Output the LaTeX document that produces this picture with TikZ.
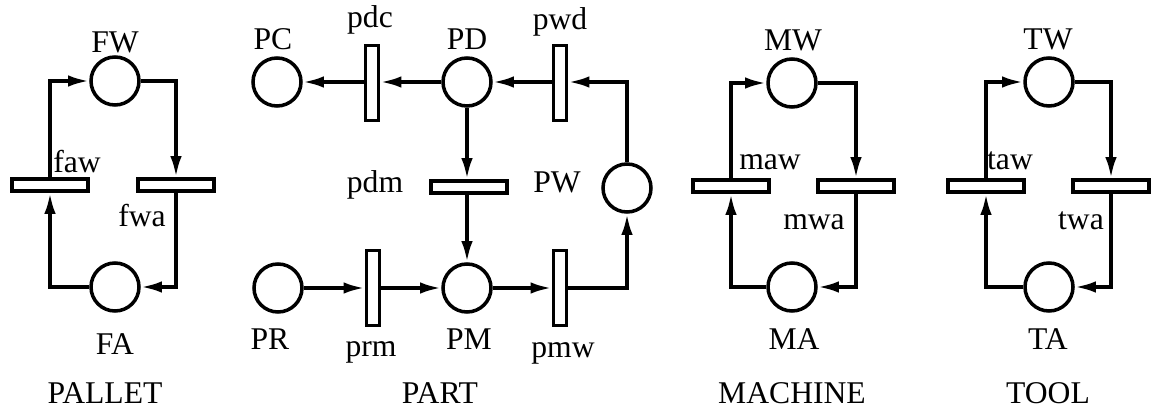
\documentclass[tikz,border=0pt]{standalone}
\usepackage{fontspec}
\setmainfont{Liberation Serif}
\usetikzlibrary{arrows.meta}

\begin{document}
\begin{tikzpicture}[x=0.02cm, y=-0.02cm, line width=2pt,
    place/.style={circle, draw, minimum size=0.96cm, inner sep=0pt},
    hbar/.style={rectangle, draw, minimum width=1.52cm, minimum height=0.24cm, inner sep=0pt},
    vbar/.style={rectangle, draw, minimum width=0.26cm, minimum height=1.5cm, inner sep=0pt},
    flow/.style={-{Latex[length=12pt,width=6.5pt]}},
    lbl/.style={anchor=base, inner sep=0pt, font=\fontsize{18pt}{21pt}\selectfont}]
  \useasboundingbox (0,0) rectangle (1152,411);
  % pallet
  \node (FW) [place] at (115,81) {};
  \node (FA) [place] at (115,287) {};
  \node (faw) [hbar] at (50,185) {};
  \node (fwa) [hbar] at (176,185) {};
  \draw [flow] (faw.north) |- (FW.west);
  \draw [flow] (FW.east) -| (fwa.north);
  \draw [flow] (fwa.south) |- (FA.east);
  \draw [flow] (FA.west) -| (faw.south);
  \node (tFW) [lbl] at (115,53) {FW};
  \node (tFA) [lbl] at (115,355) {FA};
  \node (tfaw) [lbl] at (77,173) {faw};
  \node (tfwa) [lbl] at (142,227) {fwa};
  \node (tPALLET) [lbl] at (105,404) {PALLET};
  % part
  \node (PC) [place] at (277,82) {};
  \node (PD) [place] at (467,82) {};
  \node (PW) [place] at (627,188) {};
  \node (PR) [place] at (278,288) {};
  \node (PM) [place] at (467,288) {};
  \node (pdc) [vbar] at (372,83) {};
  \node (pwd) [vbar] at (560,83) {};
  \node (pdm) [hbar] at (469,187) {};
  \node (prm) [vbar] at (373,288) {};
  \node (pmw) [vbar] at (560,288) {};
  \draw [flow] (PD.west) -- (pdc.east |- PD.west);
  \draw [flow] (pdc.west |- PC.east) -- (PC.east);
  \draw [flow] (pwd.west |- PD.east) -- (PD.east);
  \draw [flow] (PW.north) |- (pwd.east |- PD.east);
  \draw [flow] (PD.south) -- (pdm.north -| PD.south);
  \draw [flow] (pdm.south -| PM.north) -- (PM.north);
  \draw [flow] (PR.east) -- (prm.west |- PR.east);
  \draw [flow] (prm.east |- PM.west) -- (PM.west);
  \draw [flow] (PM.east) -- (pmw.west |- PM.east);
  \draw [flow] (pmw.east |- PM.east) -| (PW.south);
  \node (tPC) [lbl] at (273,50) {PC};
  \node (tpdc) [lbl] at (370,28) {pdc};
  \node (tPD) [lbl] at (467,50) {PD};
  \node (tpwd) [lbl] at (560,30) {pwd};
  \node (tpdm) [lbl] at (375,193) {pdm};
  \node (tPW) [lbl] at (557,193) {PW};
  \node (tPR) [lbl] at (270,350) {PR};
  \node (tprm) [lbl] at (371,357) {prm};
  \node (tPM) [lbl] at (469,350) {PM};
  \node (tpmw) [lbl] at (563,358) {pmw};
  \node (tPART) [lbl] at (440,404) {PART};
  % machine
  \node (MW) [place] at (792,83) {};
  \node (MA) [place] at (792,287) {};
  \node (maw) [hbar] at (731,186) {};
  \node (mwa) [hbar] at (856,186) {};
  \draw [flow] (maw.north) |- (MW.west);
  \draw [flow] (MW.east) -| (mwa.north);
  \draw [flow] (mwa.south) |- (MA.east);
  \draw [flow] (MA.west) -| (maw.south);
  \node (tMW) [lbl] at (793,51) {MW};
  \node (tMA) [lbl] at (794,350) {MA};
  \node (tmaw) [lbl] at (770,170) {maw};
  \node (tmwa) [lbl] at (814,230) {mwa};
  \node (tMACHINE) [lbl] at (792,404) {MACHINE};
  % tool
  \node (TW) [place] at (1049,82) {};
  \node (TA) [place] at (1049,287) {};
  \node (taw) [hbar] at (986,186) {};
  \node (twa) [hbar] at (1111,186) {};
  \draw [flow] (taw.north) |- (TW.west);
  \draw [flow] (TW.east) -| (twa.north);
  \draw [flow] (twa.south) |- (TA.east);
  \draw [flow] (TA.west) -| (taw.south);
  \node (tTW) [lbl] at (1048,50) {TW};
  \node (tTA) [lbl] at (1048,350) {TA};
  \node (ttaw) [lbl] at (1010,170) {taw};
  \node (ttwa) [lbl] at (1081,230) {twa};
  \node (tTOOL) [lbl] at (1048,404) {TOOL};
\end{tikzpicture}
\end{document}
